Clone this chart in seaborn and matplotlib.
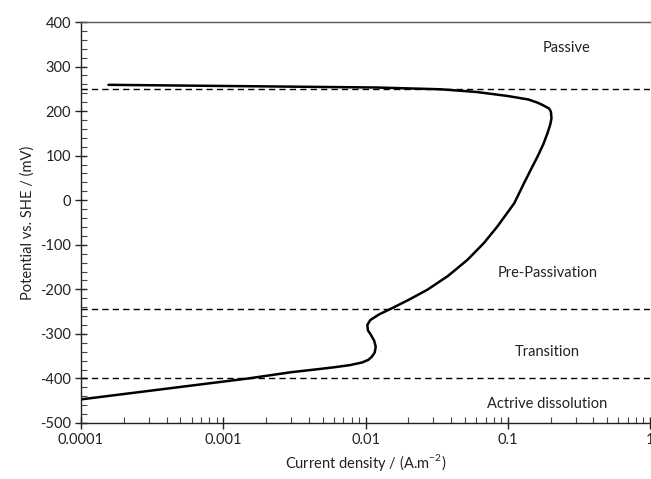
import matplotlib
matplotlib.use("Agg")
import matplotlib.pyplot as plt
import matplotlib.ticker as mticker
import numpy as np
import pandas as pd
import seaborn as sns

# Polarisation curve: current density (A/m^2) vs potential (mV vs SHE)
current_density = [
    1.0e-4, 1.5e-3, 3.0e-3, 4.4e-3, 6.0e-3, 7.8e-3, 9.5e-3, 0.0105, 0.0111,
    0.0116, 0.0118, 0.0115, 0.0109, 0.0104, 0.0103, 0.0108, 0.0125, 0.015,
    0.020, 0.0272, 0.038, 0.052, 0.068, 0.0845, 0.111, 0.130, 0.146, 0.162,
    0.178, 0.19, 0.199, 0.203, 0.201, 0.195, 0.175, 0.162, 0.14, 0.0995,
    0.06, 0.0337, 0.0118, 1.56e-4,
]
potential = [
    -447, -400, -386, -380, -375, -370, -364, -358, -351,
    -342, -329, -315, -302, -292, -280, -269, -256, -244,
    -224, -201, -170, -134, -96, -59, -7, 38, 70, 98,
    126, 150, 170, 184, 199, 206, 214, 219, 226, 234,
    243, 249, 253, 259,
]

# Region boundaries and labels
boundaries = [250, -245, -400]
region_labels = ["Passive", "Pre-Passivation", "Transition", "Actrive dissolution"]
label_x = [0.26, 0.19, 0.19, 0.19]
label_y = [342, -163, -340, -457]

sns.set_style("ticks")
plt.rcParams["font.family"] = ["Lato", "DejaVu Sans"]
plt.rcParams["mathtext.fontset"] = "custom"
plt.rcParams["mathtext.rm"] = "Lato"
plt.rcParams["axes.unicode_minus"] = False

fig = plt.figure(figsize=(6.51, 4.79), dpi=100)
ax = fig.add_axes([81 / 651, 1 - 423 / 479, 569 / 651, 401 / 479])

df = pd.DataFrame({"i": current_density, "E": potential})
sns.lineplot(data=df, x="i", y="E", sort=False, estimator=None,
             color="black", linewidth=1.8, ax=ax)
ax.lines[0].set_solid_joinstyle("round")

for b in boundaries:
    ax.axhline(b, color="black", linewidth=1.0, linestyle=(0, (4.5, 3)))

for txt, x, y in zip(region_labels, label_x, label_y):
    ax.text(x, y, txt, ha="center", va="center", fontsize=10.5, color="#222222")

ax.set_xscale("log")
ax.set_xlim(1e-4, 1)
ax.set_ylim(-500, 400)
ax.set_xticks([1e-4, 1e-3, 1e-2, 1e-1, 1])
ax.set_xticklabels(["0.0001", "0.001", "0.01", "0.1", "1"])
ax.xaxis.set_minor_locator(mticker.LogLocator(base=10, subs=np.arange(2, 10), numticks=20))
ax.xaxis.set_minor_formatter(mticker.NullFormatter())
ax.set_yticks(np.arange(-500, 401, 100))
ax.yaxis.set_minor_locator(mticker.MultipleLocator(20))

ax.tick_params(axis="both", which="major", direction="inout", length=8,
               width=1, labelsize=10.5, colors="#222222", pad=3)
ax.tick_params(axis="both", which="minor", direction="in", length=4, width=0.8,
               color="#444444")
ax.tick_params(axis="x", which="both", top=False)
ax.tick_params(axis="y", which="both", right=False)

for side in ["left", "bottom", "top"]:
    ax.spines[side].set_visible(True)
    ax.spines[side].set_linewidth(1.0)
ax.spines["left"].set_color("#222222")
ax.spines["bottom"].set_color("#222222")
ax.spines["top"].set_color("#555555")
ax.spines["right"].set_visible(False)

ax.set_xlabel("Current density / (A.m$^{\\mathrm{-2}}$)", fontsize=10.5, color="#222222", labelpad=4)
ax.set_ylabel("Potential vs. SHE / (mV)", fontsize=10.5, color="#222222", labelpad=4)

fig.savefig("out.png", dpi=100)
